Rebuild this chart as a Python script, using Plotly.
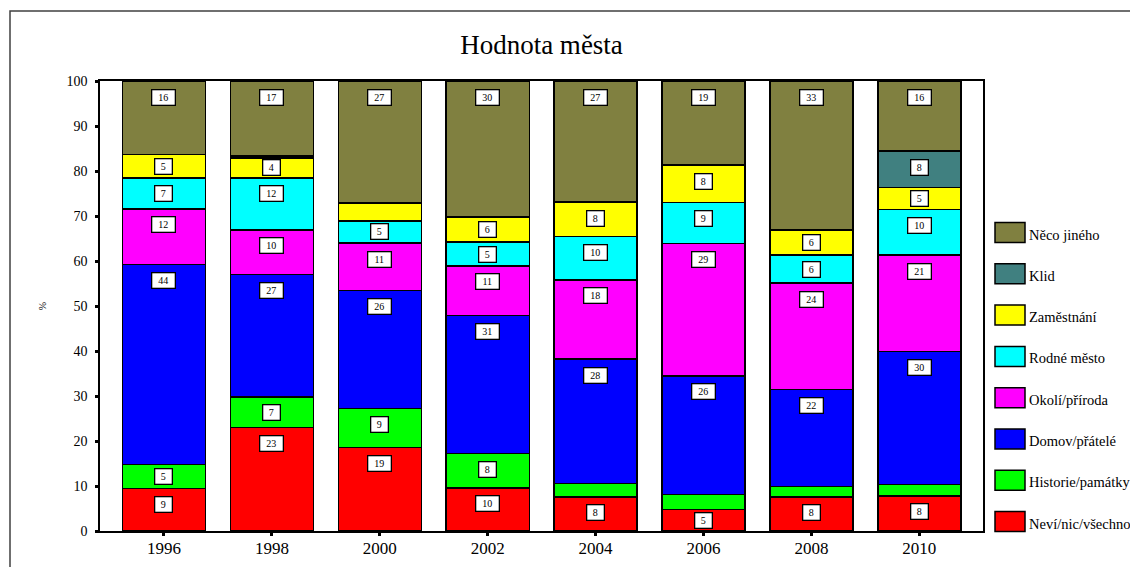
import numpy as np
import plotly.graph_objects as go

years = ["1996", "1998", "2000", "2002", "2004", "2006", "2008", "2010"]

nevi = [9.4, 23.0, 18.6, 9.6, 7.6, 4.8, 7.6, 7.8]
historie = [5.4, 6.8, 8.6, 7.6, 3.0, 3.3, 2.3, 2.5]
domov = [44.4, 27.2, 26.2, 30.7, 27.6, 26.4, 21.6, 29.6]
okoli = [12.4, 9.9, 10.6, 11.0, 17.6, 29.4, 23.6, 21.4]
rodne = [6.9, 11.6, 4.9, 5.3, 9.6, 9.1, 6.2, 10.1]
zamestnani = [5.2, 4.4, 4.0, 5.6, 7.6, 8.3, 5.6, 4.9]
klid = [0.0, 0.4, 0.0, 0.0, 0.2, 0.0, 0.0, 8.1]
neco = [16.3, 16.7, 27.1, 30.2, 26.8, 18.7, 33.1, 15.6]

series = [
    ("Neví/nic/všechno", nevi, "#FF0000"),
    ("Historie/památky", historie, "#00FF00"),
    ("Domov/přátelé", domov, "#0000FF"),
    ("Okolí/příroda", okoli, "#FF00FF"),
    ("Rodné město", rodne, "#00FFFF"),
    ("Zaměstnání", zamestnani, "#FFFF00"),
    ("Klid", klid, "#408080"),
    ("Něco jiného", neco, "#808040"),
]

SERIF = "Liberation Serif"
W, H = 1130, 567
# plot area in page pixels: left 100, right 983, top 81, bottom 531
PL, PR, PT, PB = 100, 983, 81, 531
PW, PH = PR - PL, PB - PT
ML, MT = PL, PT
MR, MB = W - PR, H - PB


def px(x):
    return (x - PL) / PW


def py(y):
    return (PB - y) / PH


fig = go.Figure()
for name, vals, color in series:
    fig.add_trace(go.Bar(
        x=years, y=vals, name=name, width=0.77,
        marker=dict(color=color, line=dict(color="black", width=1.5)),
        showlegend=False, hoverinfo="x+y+name",
    ))

# value labels in white boxes
annotations = []
base = np.zeros(len(years))
for name, vals, color in series:
    v = np.array(vals, dtype=float)
    top = base + v
    for i, yr in enumerate(years):
        if v[i] >= 4.2:
            txt = f"{v[i]:.0f}"
            annotations.append(dict(
                x=i, y=top[i] - min(3.56, v[i] / 2), xref="x", yref="y",
                text=txt, showarrow=False,
                font=dict(family=SERIF, size=10, color="black"),
                bgcolor="white", bordercolor="black", borderwidth=1.3,
                borderpad=1, width=6 * len(txt) + 8, height=12,
                xanchor="center", yanchor="middle",
            ))
    base = top

# manual legend (top to bottom = reversed stacking order)
shapes = []
for k, (name, vals, color) in enumerate(reversed(series)):
    cy = 232.5 + 41.3 * k
    shapes.append(dict(type="rect", xref="paper", yref="paper",
                       x0=px(995), x1=px(1025), y0=py(cy + 10), y1=py(cy - 10),
                       fillcolor=color, line=dict(color="black", width=1.5)))
    annotations.append(dict(
        x=px(1027), y=py(cy + 2), xref="paper", yref="paper",
        text=name, showarrow=False, xanchor="left", yanchor="middle",
        font=dict(family=SERIF, size=14.5, color="black"),
    ))

# outer frame
shapes.append(dict(type="rect", xref="paper", yref="paper",
                   x0=px(10), x1=px(1145), y0=py(590), y1=py(11),
                   line=dict(color="#404040", width=1.5), fillcolor="rgba(0,0,0,0)",
                   layer="below"))

fig.update_layout(
    width=W, height=H,
    barmode="stack",
    paper_bgcolor="white", plot_bgcolor="white",
    margin=dict(l=ML, r=MR, t=MT, b=MB, autoexpand=False),
    title=dict(text="Hodnota města", x=0.5, xref="paper", xanchor="center",
               y=1 - 45 / H, yanchor="middle", yref="container",
               font=dict(family=SERIF, size=27, color="black")),
    font=dict(family=SERIF, color="black"),
    annotations=annotations,
    shapes=shapes,
    showlegend=False,
)
fig.update_xaxes(
    type="category", range=[-0.593, 7.59],
    showline=True, linecolor="black", linewidth=1.5, mirror=True,
    ticks="outside", ticklen=3, tickwidth=3, tickcolor="black",
    ticklabelstandoff=-2,
    tickfont=dict(family=SERIF, size=17, color="black"),
    showgrid=False, zeroline=False, fixedrange=True,
)
fig.update_yaxes(
    range=[0, 100], tickvals=list(range(0, 101, 10)),
    showline=True, linecolor="black", linewidth=1.5, mirror=True,
    ticks="outside", ticklen=3, tickwidth=3, tickcolor="black",
    ticklabelstandoff=5,
    tickfont=dict(family=SERIF, size=14, color="black"),
    title=dict(text="%", font=dict(family=SERIF, size=10, color="black"), standoff=18),
    showgrid=False, zeroline=False, fixedrange=True,
)

fig.write_html(
    "out.html",
    config={"displayModeBar": False},
    post_script="document.body.style.margin='0';document.body.style.overflow='hidden';",
)
